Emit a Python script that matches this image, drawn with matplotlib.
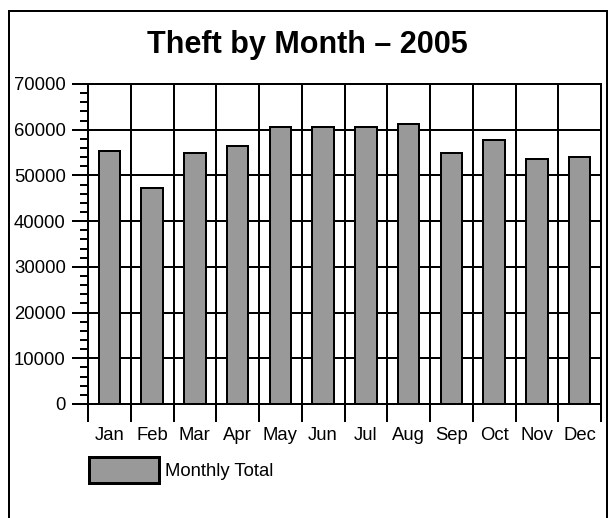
import matplotlib
matplotlib.use("Agg")
import matplotlib.pyplot as plt
from matplotlib.lines import Line2D
import numpy as np

months = ["Jan", "Feb", "Mar", "Apr", "May", "Jun",
          "Jul", "Aug", "Sep", "Oct", "Nov", "Dec"]
totals = [55400, 47300, 54900, 56500, 60600, 60600,
          60600, 61300, 54800, 57700, 53600, 54100]
title = "Theft by Month \u2013 2005"
series_name = "Monthly Total"

plt.rcParams["font.family"] = ["Liberation Sans", "DejaVu Sans"]

W, H = 610, 518
fig = plt.figure(figsize=(W / 100, H / 100), dpi=100)
ax = fig.add_axes([88 / W, 1 - 404 / H, (601 - 88) / W, (404 - 84) / H])

px = 72 / 100  # points per pixel
lw = 2 * px
fs = 13.3

x = np.arange(len(months))
ax.bar(x, totals, width=0.5, color="#999999", edgecolor="black",
       linewidth=lw, label=series_name, zorder=3)

ax.set_xlim(-0.5, len(months) - 0.5)
ax.set_ylim(0, 70000)

# x: boundaries carry the gridlines/ticks, centers carry the labels
ax.set_xticks(np.arange(-0.5, len(months), 1.0))
ax.set_xticklabels([])
ax.set_xticks(x, minor=True)
ax.set_xticklabels(months, minor=True)
ax.tick_params(axis="x", which="major", length=18 * px, width=lw,
               direction="out")
ax.tick_params(axis="x", which="minor", length=0, pad=16.5, labelsize=fs)

# y: majors every 10000, minors every 2000
ax.set_yticks(np.arange(0, 70001, 10000))
ax.set_yticks(np.arange(0, 70001, 2000), minor=True)
ax.tick_params(axis="y", which="major", length=16 * px, width=lw,
               pad=4.5, labelsize=fs)
ax.tick_params(axis="y", which="minor", length=8 * px, width=lw)

ax.grid(True, which="major", color="black", linewidth=lw, zorder=0)
ax.set_axisbelow(True)
for s in ax.spines.values():
    s.set_linewidth(lw)
    s.set_color("black")

fig.text(307 / W, 1 - 45 / H, title, ha="center", va="center",
         fontsize=22, fontweight="bold")

leg = ax.legend(loc="upper left", bbox_to_anchor=(89 / W, 1 - 457 / H),
                bbox_transform=fig.transFigure, frameon=False, fontsize=fs,
                borderpad=0, borderaxespad=0, handlelength=3.8,
                handleheight=1.75, handletextpad=0.3)
for h in leg.legend_handles:
    h.set_linewidth(3 * px)

# outer frame (open at the bottom)
fx0, fx1, fy = 8.5 / W, 607 / W, 1 - 11 / H
for xs, ys in [([fx0, fx0], [0, fy]), ([fx0, fx1], [fy, fy]),
               ([fx1, fx1], [fy, 0])]:
    fig.add_artist(Line2D(xs, ys, transform=fig.transFigure,
                          color="black", linewidth=lw))

fig.savefig("out.png", dpi=100)
